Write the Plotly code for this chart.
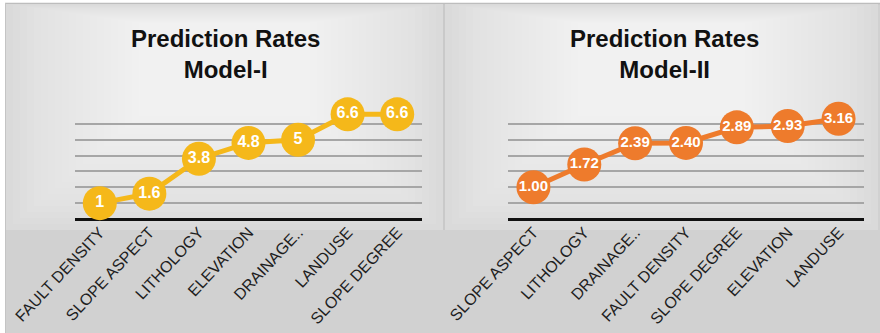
import plotly.graph_objects as go

# Model-I prediction rates
cats1 = ["FAULT DENSITY", "SLOPE ASPECT", "LITHOLOGY", "ELEVATION", "DRAINAGE..", "LANDUSE", "SLOPE DEGREE"]
vals1 = [1, 1.6, 3.8, 4.8, 5, 6.6, 6.6]
text1 = ["1", "1.6", "3.8", "4.8", "5", "6.6", "6.6"]

# Model-II prediction rates
cats2 = ["SLOPE ASPECT", "LITHOLOGY", "DRAINAGE..", "FAULT DENSITY", "SLOPE DEGREE", "ELEVATION", "LANDUSE"]
vals2 = [1.00, 1.72, 2.39, 2.40, 2.89, 2.93, 3.16]
text2 = [f"{v:.2f}" for v in vals2]

W, H = 880, 333
FONT = "Liberation Sans, Arial, Helvetica, sans-serif"
YELLOW = "#F5B81A"
ORANGE = "#EE7B2C"


def px(x):
    return x / W


def py(y):
    return 1 - y / H


fig = go.Figure()

fig.add_trace(go.Scatter(
    x=cats1, y=vals1, text=text1, mode="lines+markers+text",
    line=dict(color=YELLOW, width=5),
    marker=dict(color=YELLOW, size=34, line=dict(width=0)),
    textposition="middle center",
    textfont=dict(family=FONT, size=16, color="white", weight="bold"),
    cliponaxis=False, xaxis="x", yaxis="y", showlegend=False, hoverinfo="skip",
))
fig.add_trace(go.Scatter(
    x=cats2, y=vals2, text=text2, mode="lines+markers+text",
    line=dict(color=ORANGE, width=5),
    marker=dict(color=ORANGE, size=34, line=dict(width=0)),
    textposition="middle center",
    textfont=dict(family=FONT, size=15, color="white", weight="bold"),
    cliponaxis=False, xaxis="x2", yaxis="y2", showlegend=False, hoverinfo="skip",
))

# backdrop: grey card, two lighter panels with a soft glow toward the title
shapes = [
    dict(type="rect", xref="paper", yref="paper", layer="below",
         x0=px(5), x1=1, y0=0, y1=py(3), fillcolor="#d1d1d1", line=dict(width=0)),
    dict(type="line", xref="paper", yref="paper", layer="below",
         x0=px(5), x1=1, y0=py(3.5), y1=py(3.5), line=dict(color="#bdbdbd", width=1.5)),
    dict(type="line", xref="paper", yref="paper", layer="below",
         x0=px(5.5), x1=px(5.5), y0=0, y1=py(3), line=dict(color="#c4c4c4", width=1)),
]
for (l, r) in [(6, 443), (445, 878)]:
    shapes.append(dict(type="rect", xref="paper", yref="paper", layer="below",
                       x0=px(l), x1=px(r), y0=py(230), y1=py(4),
                       fillcolor="#dadada", line=dict(width=0)))
    for i in range(1, 21):
        shapes.append(dict(type="rect", xref="paper", yref="paper", layer="below",
                           x0=px(l + 7 * i), x1=px(r - 7 * i),
                           y0=py(230 - 6 * i), y1=py(4 + 1 * i),
                           fillcolor="rgba(255,255,255,0.066)", line=dict(width=0)))
shapes.append(dict(type="line", xref="paper", yref="paper", layer="below",
                   x0=px(444), x1=px(444), y0=py(230), y1=py(4),
                   line=dict(color="#c6c6c6", width=1.5)))

annotations = [
    dict(text="<b>Prediction Rates<br>Model-I</b>", xref="paper", yref="paper",
         x=px(225), y=py(54), xanchor="center", yanchor="middle", showarrow=False,
         font=dict(family=FONT, size=24, color="#111111")),
    dict(text="<b>Prediction Rates<br>Model-II</b>", xref="paper", yref="paper",
         x=px(664), y=py(54), xanchor="center", yanchor="middle", showarrow=False,
         font=dict(family=FONT, size=24, color="#111111")),
]

xcommon = dict(type="category", range=[-0.5, 6.5], showgrid=False, showline=False,
               ticks="", tickangle=-47, zeroline=False, fixedrange=True, automargin=False,
               tickfont=dict(family=FONT, size=16, color="#1e1e1e"))
ycommon = dict(showticklabels=False, ticks="", showline=False, gridcolor="#a6a6a6",
               gridwidth=2, zeroline=True, zerolinecolor="#111111", zerolinewidth=3,
               domain=[py(219), py(108)], fixedrange=True, automargin=False)

fig.update_layout(
    width=W, height=H, margin=dict(l=0, r=0, t=0, b=0, autoexpand=False),
    paper_bgcolor="white", plot_bgcolor="rgba(0,0,0,0)",
    shapes=shapes, annotations=annotations,
    xaxis=dict(domain=[px(75), px(422)], anchor="y", **xcommon),
    yaxis=dict(range=[0, 7], dtick=1, anchor="x", **ycommon),
    xaxis2=dict(domain=[px(508), px(864)], anchor="y2", **xcommon),
    yaxis2=dict(range=[0, 3.5], dtick=0.5, anchor="x2", **ycommon),
)

fig.write_html("out.html")
